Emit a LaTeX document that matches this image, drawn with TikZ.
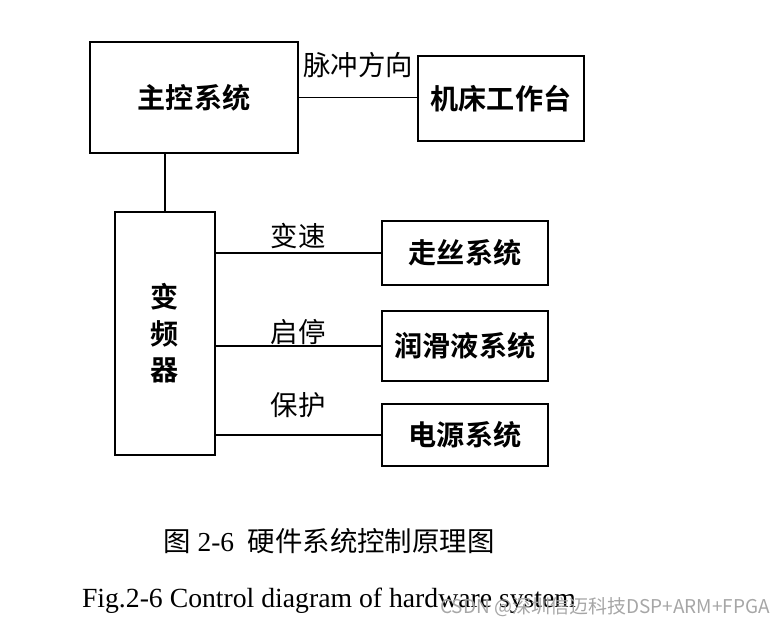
\documentclass[tikz,border=0pt]{standalone}
\usepackage{fontspec}
\setmainfont{Liberation Serif}
\newfontfamily\cjk{Noto Sans CJK SC}
\newfontfamily\cjkbf{Noto Sans CJK SC Bold}
\begin{document}
\begin{tikzpicture}[x=0.025cm,y=-0.025cm,
  blk/.style={draw,line width=1.5pt,inner sep=0pt,font=\cjkbf\fontsize{20}{26}\selectfont,align=center},
  lbl/.style={font=\cjk\fontsize{19.5}{22}\selectfont},
  wire/.style={line width=1.4pt}]
  \useasboundingbox (0,0) rectangle (784,626);
  \node[blk,minimum width=5.2cm,minimum height=2.775cm]   (main)  at (194,97.5)  {主控系统};
  \node[blk,minimum width=4.15cm,minimum height=2.125cm]  (table) at (501,98.5)  {机床工作台};
  \node[blk,minimum width=2.5cm,minimum height=6.075cm]   (inv)   at (165,333.5) {变\\频\\器};
  \node[blk,minimum width=4.15cm,minimum height=1.6cm]    (wireS) at (465,253)   {走丝系统};
  \node[blk,minimum width=4.15cm,minimum height=1.75cm]   (lube)  at (465,346)   {润滑液系统};
  \node[blk,minimum width=4.15cm,minimum height=1.55cm]   (power) at (465,435)   {电源系统};

  \draw[wire] (main.east) -- (main.east -| table.west);
  \node[lbl] (pulse) at (358,65) {脉冲方向};
  \draw[wire] (inv.north) -- (inv.north |- main.south);
  \draw[wire] (wireS.west -| inv.east) -- (wireS.west);
  \draw[wire] (lube.west -| inv.east) -- (lube.west);
  \draw[wire] (power.west -| inv.east) -- (power.west);
  \node[lbl] (speed) at (298,236) {变速};
  \node[lbl] (start) at (298,332) {启停};
  \node[lbl] (prot)  at (298,405) {保护};

  \node[font=\fontsize{19.5}{22}\selectfont] (capcn) at (329,541) {{\cjk 图} 2-6\ \ {\cjk 硬件系统控制原理图}};
  \node[font=\fontsize{19.7}{22}\selectfont] (capen) at (329,601) {Fig.2-6 Control diagram of hardware system};
  \node[font=\cjk\fontsize{13.5}{15}\selectfont,text=black!35] (mark) at (605,607) {CSDN @深圳信迈科技DSP+ARM+FPGA};
\end{tikzpicture}
\end{document}
